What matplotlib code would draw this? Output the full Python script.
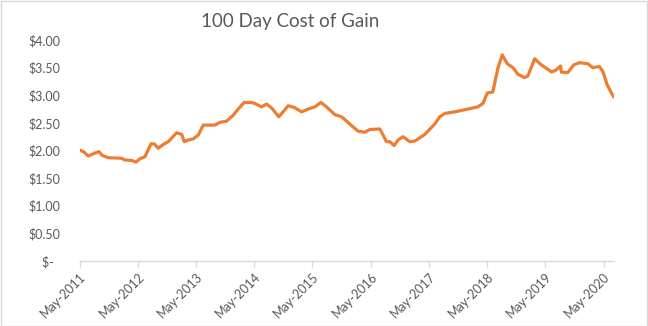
import matplotlib
matplotlib.use("Agg")
import matplotlib.pyplot as plt
import matplotlib.dates as mdates
from matplotlib.patches import Rectangle
import pandas as pd

plt.rcParams['font.family'] = ['Lato', 'DejaVu Sans']

title = "100 Day Cost of Gain"

dates = ["2011-05-01", "2011-05-25", "2011-06-25", "2011-07-26", "2011-08-31", "2011-09-21",
         "2011-10-28", "2012-01-20", "2012-02-06", "2012-03-23", "2012-04-19", "2012-05-14",
         "2012-06-15", "2012-07-22", "2012-08-12", "2012-09-06", "2012-10-07", "2012-11-08",
         "2012-12-30", "2013-01-31", "2013-02-16", "2013-03-13", "2013-04-13", "2013-05-15",
         "2013-06-15", "2013-08-27", "2013-09-28", "2013-11-08", "2013-12-20", "2014-01-20",
         "2014-02-27", "2014-04-14", "2014-05-05", "2014-06-16", "2014-07-17", "2014-08-18",
         "2014-10-02", "2014-11-30", "2015-01-06", "2015-02-22", "2015-04-04", "2015-05-16",
         "2015-06-23", "2015-07-28", "2015-09-18", "2015-10-30", "2015-11-20", "2016-01-01",
         "2016-02-11", "2016-03-24", "2016-04-25", "2016-06-26", "2016-07-17", "2016-08-07",
         "2016-08-28", "2016-09-24", "2016-10-19", "2016-11-19", "2016-12-31", "2017-02-01",
         "2017-04-04", "2017-06-06", "2017-07-07", "2017-08-08", "2017-10-09", "2017-12-31",
         "2018-03-03", "2018-04-04", "2018-05-01", "2018-06-05", "2018-07-07", "2018-08-03",
         "2018-09-04", "2018-10-09", "2018-11-09", "2018-12-21", "2019-01-11", "2019-02-22",
         "2019-04-05", "2019-06-10", "2019-07-08", "2019-08-04", "2019-08-08", "2019-09-18",
         "2019-10-26", "2019-12-01", "2020-01-22", "2020-02-22", "2020-04-04", "2020-04-25",
         "2020-05-22", "2020-07-01"]

cost = [2.01, 1.98, 1.90, 1.94, 1.98, 1.91,
        1.87, 1.86, 1.83, 1.82, 1.79, 1.85,
        1.89, 2.12, 2.12, 2.04, 2.11, 2.16,
        2.32, 2.29, 2.16, 2.19, 2.21, 2.28,
        2.46, 2.46, 2.51, 2.53, 2.64, 2.75,
        2.87, 2.87, 2.85, 2.79, 2.84, 2.77,
        2.61, 2.81, 2.78, 2.70, 2.75, 2.79,
        2.87, 2.79, 2.65, 2.61, 2.56, 2.45,
        2.35, 2.33, 2.38, 2.39, 2.28, 2.16,
        2.16, 2.09, 2.19, 2.25, 2.16, 2.17,
        2.29, 2.48, 2.61, 2.67, 2.70, 2.75,
        2.79, 2.85, 3.04, 3.06, 3.49, 3.73,
        3.57, 3.50, 3.38, 3.32, 3.35, 3.66,
        3.55, 3.42, 3.46, 3.53, 3.42, 3.41,
        3.55, 3.59, 3.57, 3.50, 3.52, 3.43,
        3.19, 2.97]

y_ticks = [0, 0.5, 1.0, 1.5, 2.0, 2.5, 3.0, 3.5, 4.0]
y_labels = ["$-  ", "$0.50", "$1.00", "$1.50", "$2.00", "$2.50", "$3.00", "$3.50", "$4.00"]
x_tick_dates = ["2011-05-01", "2012-05-01", "2013-05-01", "2014-05-01", "2015-05-01",
                "2016-05-01", "2017-05-01", "2018-05-01", "2019-05-01", "2020-05-01"]
x_range = ["2011-05-01", "2020-07-04"]

grey_text = "#595959"
axis_grey = "#D9D9D9"
orange = "#ED7D31"

fig = plt.figure(figsize=(6.48, 3.26), dpi=100)
fig.patches.append(Rectangle((0.5 / 648, 0.5 / 326), 1 - 1.5 / 648, 1 - 1.5 / 326,
                             transform=fig.transFigure, fill=False,
                             edgecolor=axis_grey, linewidth=1))
ax = fig.add_axes([79.5 / 648, (326 - 261) / 326, (614 - 79.5) / 648, (261 - 40) / 326])

ax.plot(pd.to_datetime(dates), cost, color=orange, linewidth=2.3,
        solid_joinstyle="round", solid_capstyle="round")

ax.set_xlim(pd.to_datetime(x_range[0]), pd.to_datetime(x_range[1]))
ax.set_ylim(0, 4)
ax.set_yticks(y_ticks)
ax.set_yticklabels(y_labels)
ax.set_xticks(pd.to_datetime(x_tick_dates))
ax.xaxis.set_major_formatter(mdates.DateFormatter("%b-%Y"))

for s in ["top", "right", "left"]:
    ax.spines[s].set_visible(False)
ax.spines["bottom"].set_color(axis_grey)
ax.spines["bottom"].set_linewidth(1)

ax.tick_params(axis="y", length=0, pad=14, labelsize=9, labelcolor=grey_text)
ax.tick_params(axis="x", length=4, width=1, color=axis_grey, direction="out",
               pad=3, labelsize=9, labelcolor=grey_text)
for lbl in ax.get_xticklabels():
    lbl.set_rotation(45)
    lbl.set_ha("right")
    lbl.set_va("top")
    lbl.set_rotation_mode("anchor")

fig.text(290 / 648, 1 - 22 / 326, title, ha="center", va="center",
         fontsize=13.5, color=grey_text)

fig.savefig("out.png", dpi=100)
